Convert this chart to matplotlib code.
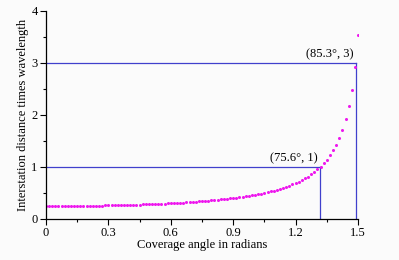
import numpy as np
import matplotlib
matplotlib.use("Agg")
import matplotlib.pyplot as plt
from matplotlib.ticker import MultipleLocator

# coverage angle (radians) and interstation distance (in wavelengths)
angle = [0.000, 0.015, 0.030, 0.045, 0.060, 0.075, 0.090, 0.105, 0.120, 0.135,
         0.150, 0.165, 0.180, 0.195, 0.210, 0.225, 0.240, 0.255, 0.270, 0.285,
         0.300, 0.315, 0.330, 0.345, 0.360, 0.375, 0.390, 0.405, 0.420, 0.435,
         0.450, 0.465, 0.480, 0.495, 0.510, 0.525, 0.540, 0.555, 0.570, 0.585,
         0.600, 0.615, 0.630, 0.645, 0.660, 0.675, 0.690, 0.705, 0.720, 0.735,
         0.750, 0.765, 0.780, 0.795, 0.810, 0.825, 0.840, 0.855, 0.870, 0.885,
         0.900, 0.915, 0.930, 0.945, 0.960, 0.975, 0.990, 1.005, 1.020, 1.035,
         1.050, 1.065, 1.080, 1.095, 1.110, 1.125, 1.140, 1.155, 1.170, 1.185,
         1.200, 1.215, 1.230, 1.245, 1.260, 1.275, 1.290, 1.305, 1.320, 1.335,
         1.350, 1.365, 1.380, 1.395, 1.410, 1.425, 1.440, 1.455, 1.470, 1.485,
         1.500]
dist = [0.250, 0.250, 0.250, 0.250, 0.250, 0.251, 0.251, 0.251, 0.252, 0.252,
        0.253, 0.253, 0.254, 0.255, 0.256, 0.256, 0.257, 0.258, 0.259, 0.261,
        0.262, 0.263, 0.264, 0.266, 0.267, 0.269, 0.270, 0.272, 0.274, 0.276,
        0.278, 0.280, 0.282, 0.284, 0.286, 0.289, 0.291, 0.294, 0.297, 0.300,
        0.303, 0.306, 0.309, 0.313, 0.316, 0.320, 0.324, 0.328, 0.333, 0.337,
        0.342, 0.347, 0.352, 0.357, 0.363, 0.368, 0.375, 0.381, 0.388, 0.395,
        0.402, 0.410, 0.418, 0.427, 0.436, 0.445, 0.456, 0.466, 0.478, 0.490,
        0.502, 0.516, 0.530, 0.546, 0.562, 0.580, 0.599, 0.619, 0.641, 0.664,
        0.690, 0.718, 0.748, 0.781, 0.817, 0.858, 0.902, 0.952, 1.007, 1.070,
        1.142, 1.223, 1.318, 1.429, 1.561, 1.721, 1.917, 2.164, 2.484, 2.917,
        3.534]

# marked points: (angle in rad, distance, label)
mark_x = [1.3195, 1.4888]
mark_y = [1, 3]
mark_labels = ["(75.6°, 1)", "(85.3°, 3)"]

plt.rcParams['font.family'] = ['Liberation Serif', 'DejaVu Serif']
plt.rcParams['font.size'] = 9

fig = plt.figure(figsize=(3.99, 2.6), dpi=100, facecolor='#fbfbfb')
ax = fig.add_axes([0.1153, 0.1577, 0.7819, 0.8])
ax.set_facecolor('#fbfbfb')

line_col = '#4040cc'
for mx, my, lab in zip(mark_x, mark_y, mark_labels):
    ax.plot([0, mx], [my, my], color=line_col, lw=0.9, zorder=1)
    ax.plot([mx, mx], [0, my], color=line_col, lw=0.9, zorder=1)
    ax.text(mx - 0.012, my + 0.06, lab, ha='right', va='bottom', fontsize=9)

ax.plot(angle, dist, 'o', color='#ee18ee', markersize=2.2, markeredgewidth=0, zorder=2)

ax.set_xlim(0, 1.5)
ax.set_ylim(0, 4)
ax.xaxis.set_minor_locator(MultipleLocator(0.15))
ax.yaxis.set_major_locator(MultipleLocator(1))
ax.yaxis.set_minor_locator(MultipleLocator(0.5))
ax.set_xticks([0, 0.3, 0.6, 0.9, 1.2, 1.5])
ax.set_xticklabels(['0', '0.3', '0.6', '0.9', '1.2', '1.5'])
ax.tick_params(which='major', direction='out', length=4, width=0.8, pad=2)
ax.tick_params(which='minor', direction='out', length=2, width=0.8)
ax.spines['top'].set_visible(False)
ax.spines['right'].set_visible(False)
ax.spines['left'].set_linewidth(0.9)
ax.spines['bottom'].set_linewidth(0.9)

ax.set_xlabel('Coverage angle in radians', labelpad=0)
ax.set_ylabel('Interstation distance times wavelength', labelpad=2)

fig.savefig('out.png', dpi=100, facecolor=fig.get_facecolor())
